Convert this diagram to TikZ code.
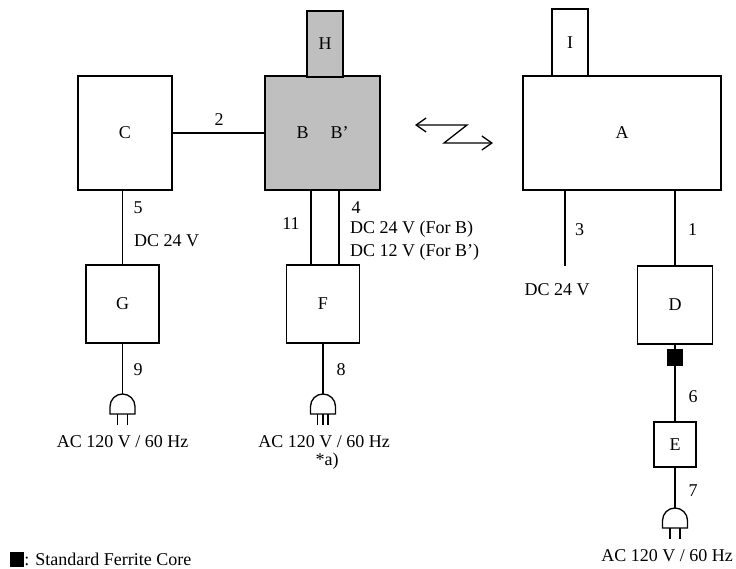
\documentclass[tikz,border=0pt]{standalone}
\usepackage{fontspec}
\setmainfont{Liberation Serif}
\usetikzlibrary{arrows.meta}
\newcommand\lw{1.3pt}
\newcommand\grey{black!25}
\tikzset{
  unit/.style 2 args={draw,line width=\lw,minimum width=#1,minimum height=#2,inner sep=0pt},
  greyunit/.style 2 args={unit={#1}{#2},fill=\grey},
  core/.style={fill=black,minimum width=16pt,minimum height=17pt,inner sep=0pt},
  wire/.style={line width=\lw},
  pics/plug/.style={code={
    \draw[line width=\lw] (-12.5,20) -- (-12.5,12.5) arc (180:360:12.5) -- (12.5,20) -- cycle;
    \draw[line width=\lw] (-5,20) -- (-5,31) (5,20) -- (5,31);
  }},
  pics/plugthree/.style={code={
    \draw[line width=\lw] (-12.5,20) -- (-12.5,12.5) arc (180:360:12.5) -- (12.5,20) -- cycle;
    \draw[line width=\lw] (-5.5,20) -- (-5.5,31) (0,20) -- (0,31) (5,20) -- (5,31);
  }},
}

\begin{document}
\begin{tikzpicture}[x=1pt,y=-1pt,font=\fontsize{18pt}{21pt}\selectfont]
    \useasboundingbox (0,0) rectangle (736,569);

    % units
    \node[unit={94pt}{114pt}] (C) at (125,133) {C};
    \node[greyunit={115pt}{114pt}] (B) at (322.5,133) {B\hspace{22pt}B’};
    \node[greyunit={36pt}{66pt}] (H) at (325,44) {H};
    \node[unit={198pt}{114pt}] (A) at (622,133) {A};
    \node[unit={36pt}{67pt}] (I) at (570,42.5) {I};
    \node[unit={73pt}{78pt}] (G) at (122.5,304) {G};
    \node[unit={73pt}{78pt}] (F) at (323,304) {F};
    \node[unit={75pt}{78pt}] (D) at (675,305) {D};
    \node[core] (fc) at (675,357.5) {};
    \node[unit={42pt}{45pt}] (E) at (675,444.5) {E};

    % plugs
    \coordinate (plugG) at (122.5,394);
    \coordinate (plugF) at (323,394);
    \coordinate (plugE) at (675,508);
    \pic at (plugG) {plug};
    \pic at (plugF) {plugthree};
    \pic at (plugE) {plug};

    % cables
    \coordinate (Bl) at ([xshift=-11.5pt]B.south);
    \coordinate (Br) at ([xshift=16.5pt]B.south);
    \coordinate (Fl) at ([xshift=-12pt]F.north);
    \coordinate (Fr) at ([xshift=16pt]F.north);
    \coordinate (dc3) at (565,266);
    \draw[wire] (C.east) -- (B.west);
    \draw[wire] (G.north |- C.south) -- (G.north);
    \draw[wire] (Bl) -- (Fl);
    \draw[wire] (Br) -- (Fr);
    \draw[wire] (dc3 |- A.south) -- (dc3);
    \draw[wire] (D.north |- A.south) -- (D.north);
    \draw[wire] (D.south) -- (fc.north);
    \draw[wire] (fc.south) -- (E.north);
    \draw[wire] (E.south) -- (plugE);
    \draw[wire] (G.south) -- (plugG);
    \draw[wire] (F.south) -- (plugF);

    % radio link
    \coordinate (zl) at (415,125);
    \coordinate (zm) at (467,125);
    \coordinate (zn) at (444,143);
    \coordinate (zr) at (493,143);
    \draw[wire,{Straight Barb[length=10pt,width=14pt]}-{Straight Barb[length=10pt,width=14pt]}] (zl) -- (zm) -- (zn) -- (zr);

    % labels
    \node (l2) at (219,120) {2};
    \node (l5) at (138,208) {5};
    \node[anchor=west,inner sep=0pt] (l5v) at (134,241) {DC 24 V};
    \node (l11) at (291,224) {11};
    \node (l4) at (356,208) {4};
    \node[anchor=west,inner sep=0pt] (l4a) at (350,229) {DC 24 V (For B)};
    \node[anchor=west,inner sep=0pt] (l4b) at (350,252) {DC 12 V (For B’)};
    \node (l3) at (579.5,230) {3};
    \node (l3v) at (557,290) {DC 24 V};
    \node (l1) at (692.5,230) {1};
    \node (l9) at (138,370) {9};
    \node (l8) at (341,370) {8};
    \node (l6) at (693,397) {6};
    \node (l7) at (693,491) {7};
    \node (acG) at (122.5,442) {AC 120 V / 60 Hz};
    \node (acF) at (324,442) {AC 120 V / 60 Hz};
    \node (note) at (327,461) {*a)};
    \node (acE) at (667,556) {AC 120 V / 60 Hz};

    % legend
    \node[core,minimum width=14pt,minimum height=15pt] (key) at (17,559.5) {};
    \node[anchor=west,inner sep=0pt] (keytext) at (key.east) {: Standard Ferrite Core};

  \end{tikzpicture}
\end{document}
